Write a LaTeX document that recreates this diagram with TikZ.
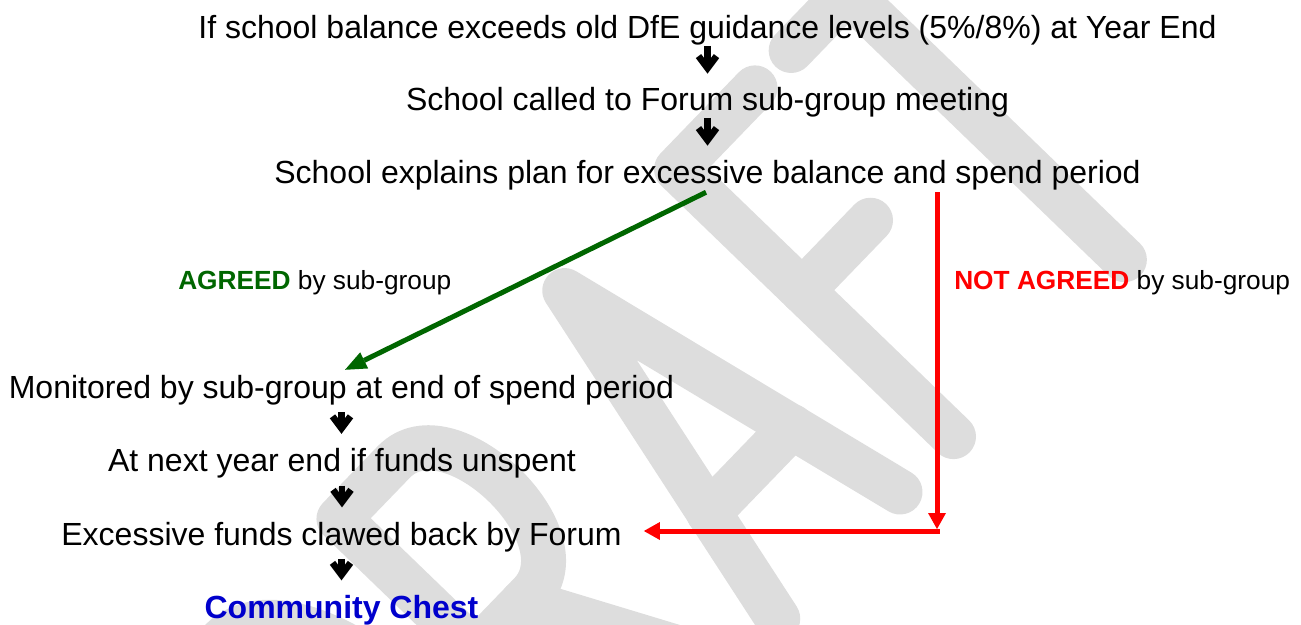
\documentclass[tikz,border=0pt]{standalone}
\usepackage{fontspec}
\setmainfont{Liberation Sans}
\usetikzlibrary{arrows.meta,calc}
\definecolor{agreedgreen}{RGB}{0,102,0}
\definecolor{notred}{RGB}{255,0,0}
\definecolor{chestblue}{RGB}{0,0,204}
\definecolor{draftgray}{RGB}{221,221,221}

\begin{document}
\begin{tikzpicture}[x=0.75pt, y=-0.75pt,
    flowtxt/.style={font=\fontsize{24}{28}\selectfont, inner sep=0pt, text height=17.2pt, text depth=0pt, anchor=base},
    lbltxt/.style={font=\fontsize{19.7}{23}\selectfont, inner sep=0pt, anchor=base west},
    downarr/.style={line width=5pt, -{Straight Barb[length=9pt, width=13.5pt]}},
    agreedarr/.style={agreedgreen, line width=3.75pt, -{Triangle[length=16pt, width=13.5pt, line width=0pt]}},
    notarr/.style={notred, line width=3.75pt, -{Triangle[length=12pt, width=13.5pt, line width=0pt]}},
    draftstroke/.style={draftgray, line width=33.75pt, line cap=round, line join=round}]
  \useasboundingbox (0,0) rectangle (1301,624);

  \begin{scope}
    \clip (0,0) rectangle (1301,624);
    \begin{scope}[shift={(900,492)}, rotate=46, x=0.75pt, y=0.75pt]
      \draw[draftstroke] (-642,0) -- (-642,385) -- (-580,385) .. controls (-450,385) and (-450,0) .. (-580,0) -- cycle;
      \draw[draftstroke] (-409,0) -- (-409,385) -- (-330,385) .. controls (-250,385) and (-250,195) .. (-330,195) -- (-409,195);
      \draw[draftstroke] (-340,195) -- (-240,0);
      \draw[draftstroke] (-176,0) -- (-88,381) -- (0,0);
      \draw[draftstroke] (-148,123) -- (-28,123);
      \draw[draftstroke] (190,385) -- (77,385) -- (77,0);
      \draw[draftstroke] (77,210) -- (175,210);
      \draw[draftstroke] (242,385) -- (404,385);
      \draw[draftstroke] (323,385) -- (323,0);
    \end{scope}
  \end{scope}

  \node[flowtxt] (yearend) at (707.5,39) {If school balance exceeds old DfE guidance levels (5\%/8\%) at Year End};
  \node[flowtxt] (called) at (707.5,111) {School called to Forum sub-group meeting};
  \node[flowtxt] (explains) at (707.5,183) {School explains plan for excessive balance and spend period};
  \node[flowtxt] (monitored) at (341.5,398) {Monitored by sub-group at end of spend period};
  \node[flowtxt] (unspent) at (342,471.5) {At next year end if funds unspent};
  \node[flowtxt] (clawed) at (341.5,545) {Excessive funds clawed back by Forum};
  \node[flowtxt, font=\fontsize{24}{28}\selectfont\bfseries, text=chestblue] (chest) at (341.5,618) {Community Chest};

  \node[lbltxt] (agreedlbl) at (178,289.3) {\textcolor{agreedgreen}{\bfseries AGREED} by sub-group};
  \node[lbltxt] (notlbl) at (954,289.3) {\textcolor{notred}{\bfseries NOT AGREED} by sub-group};

  \draw[downarr, shorten <=4.9pt, shorten >=10.6pt] (yearend.south) -- (called.north);
  \draw[downarr, shorten <=4.9pt, shorten >=10.6pt] (called.south) -- (explains.north);
  \draw[downarr, shorten <=10.4pt, shorten >=10.8pt] (monitored.south) -- (monitored.south |- unspent.north);
  \draw[downarr, shorten <=10.4pt, shorten >=10.8pt] (unspent.south) -- (unspent.south |- clawed.north);
  \draw[downarr, shorten <=10.4pt, shorten >=10.8pt] (clawed.south) -- (clawed.south |- chest.north);

  \draw[agreedarr] ($(explains.south)+(-1.5,9)$) -- ($(monitored.north)+(3.5,-5)$);

  \coordinate (nacorner) at (937,531);
  \draw[notarr] ($(explains.south -| nacorner)+(0,9)$) -- ($(nacorner)+(0,-2)$);
  \draw[notarr] ($(nacorner)+(2.5,0)$) -- ($(nacorner -| clawed.east)+(22,0)$);
\end{tikzpicture}
\end{document}
